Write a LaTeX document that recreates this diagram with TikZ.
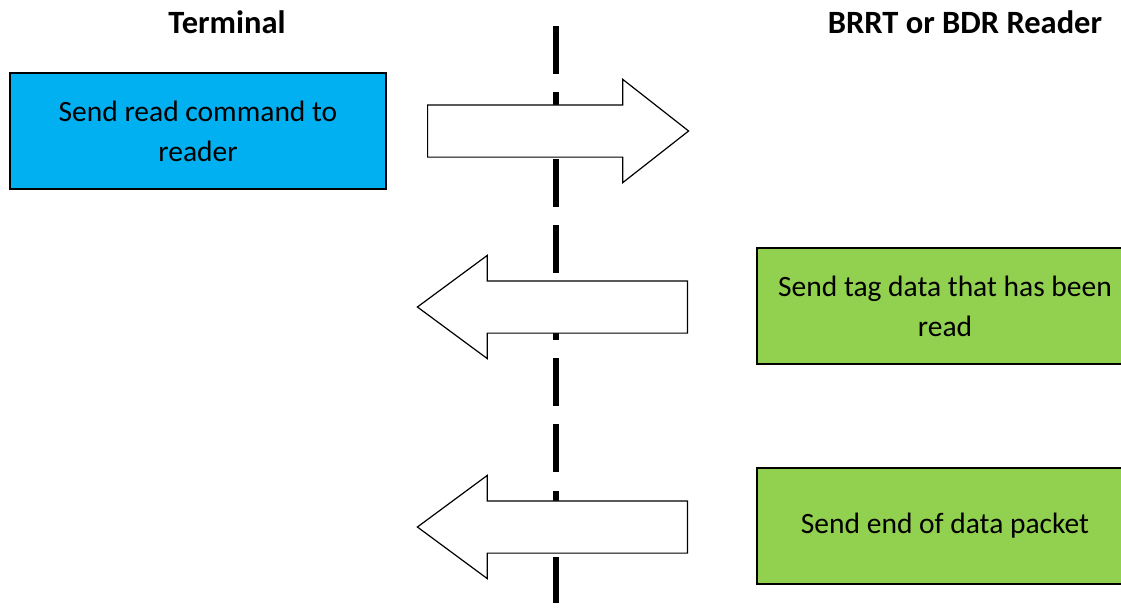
\documentclass[tikz,border=0pt]{standalone}
\usepackage{fontspec}
\setmainfont{Carlito}
\usepackage{tikz}
\usetikzlibrary{shapes.arrows}
\definecolor{termblue}{HTML}{00B0F0}
\definecolor{readgreen}{HTML}{92D050}

\begin{document}
\begin{tikzpicture}[x=1pt, y=-1pt,
  msgbox/.style={draw=black, line width=1.5pt, minimum width=376pt, minimum height=116pt,
    inner sep=0pt, align=center, font=\fontsize{29.5}{40}\selectfont},
  sidelabel/.style={font=\fontsize{32.5}{38}\selectfont\bfseries},
  blockarrow/.style={single arrow, draw=black, line width=1.2pt, fill=white,
    minimum height=261pt, inner sep=0pt, inner ysep=25.5pt,
    single arrow head extend=25.5pt, single arrow tip angle=76.2,
    single arrow head indent=0pt},
  backarrow/.style={blockarrow, shape border rotate=180, minimum height=270pt,
    single arrow tip angle=72.9}]
\useasboundingbox (0,0) rectangle (1121,613);
% the two sides
\node[sidelabel] (termlabel) at (227,22) {Terminal};
\node[sidelabel] (readerlabel) at (965,22) {BRRT or BDR Reader};
% dividing line
\coordinate (linetop) at (556,26);
\coordinate (linebot) at (556,603);
\draw[line width=6pt, dash pattern=on 48pt off 18.4pt] (linetop) -- (linebot);
% messages
\node[msgbox, fill=termblue] (cmd) at (198,131) {Send read command to\\reader};
\node[msgbox, fill=readgreen] (tagdata) at (945,306) {Send tag data that has been\\read};
\node[msgbox, fill=readgreen] (endpkt) at (945,526) {Send end of data packet};
% block arrows over the line
\node[blockarrow, anchor=tail] (cmdarrow) at (427,131) {};
\node[backarrow, anchor=tail] (dataarrow) at (688,307) {};
\node[backarrow, anchor=tail] (endarrow) at (688,527) {};
\end{tikzpicture}
\end{document}
